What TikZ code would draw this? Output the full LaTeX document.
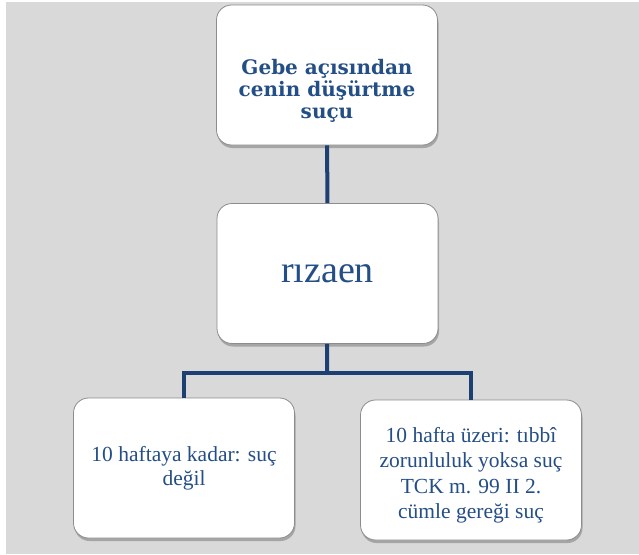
\documentclass[tikz,border=0pt]{standalone}
\usepackage{fontspec}
\setmainfont{Liberation Serif}
\newfontfamily\slabfont{DejaVu Serif}
\usetikzlibrary{shadows}
\definecolor{bggray}{HTML}{D9D9D9}
\definecolor{txtblue}{HTML}{244E86}
\definecolor{lineblue}{HTML}{1E3F72}
\definecolor{boxedge}{HTML}{8C8C8C}
\tikzset{
  card/.style={draw=boxedge, line width=0.8pt, fill=white, rounded corners=15pt,
    minimum width=221pt, minimum height=140pt, align=center, text=txtblue,
    inner sep=4pt,
    drop shadow={shadow xshift=1pt, shadow yshift=-3pt, opacity=0.45, fill=black!60}},
  link/.style={draw=lineblue, line width=4pt},
  headfont/.style={font=\slabfont\bfseries\fontsize{20}{22}\selectfont},
  bigfont/.style={font=\fontsize{38}{40}\selectfont},
  bodyfont/.style={font=\fontsize{21.5}{24.5}\selectfont}
}
\begin{document}
\begin{tikzpicture}[x=1pt,y=-1pt]
\useasboundingbox (0,0) rectangle (639,554);
\fill[white] (0,0) rectangle (639,554);
\fill[bggray] (6,2) rectangle (639,554);
\node[card] (top) at (327,75) {};
\node[headfont, text=txtblue, align=center] (toptext) at (327,91) {Gebe açısından\\cenin düşürtme\\suçu};
\node[card, bigfont] (mid) at (327.5,273.5) {rızaen};
\node[card, bodyfont] (left) at (184,468) {10 haftaya kadar: suç\\değil};
\node[card] (right) at (471,470) {};
\node[bodyfont, text=txtblue, align=center] (righttext) at (471,475) {10 hafta üzeri: tıbbî\\zorunluluk yoksa suç\\[2pt]TCK m. 99 II 2.\\cümle gereği suç};
\coordinate (bus) at (327,373);
\draw[link] (top) -- (mid);
\draw[link] (mid) -- (bus);
\draw[link] (left.north) |- (bus) -| (right.north);
\end{tikzpicture}
\end{document}
